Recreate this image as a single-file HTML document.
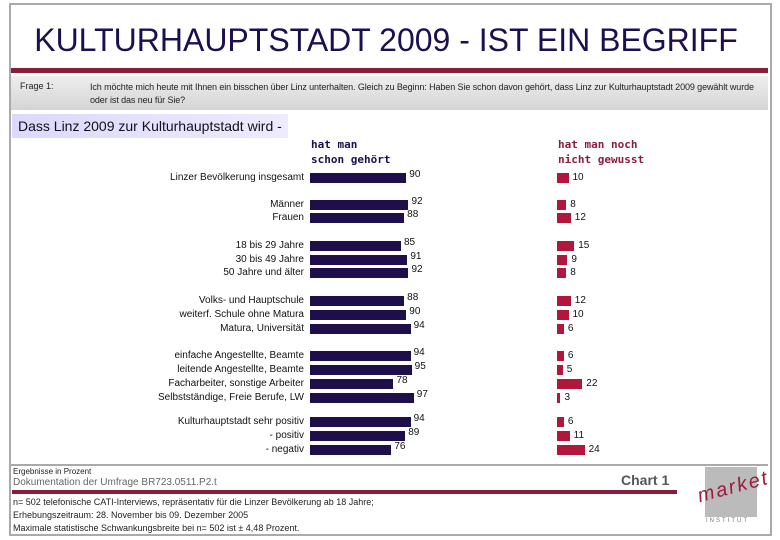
<!DOCTYPE html>
<html><head><meta charset="utf-8"><style>
body{margin:0;width:780px;height:540px;background:#fff;font-family:"Liberation Sans",sans-serif;position:relative;overflow:hidden}
.a{position:absolute}
.lbl{font-size:10px;color:#111;text-align:right;width:160px;left:144px}
.v{font-size:10px;color:#111}
</style></head><body>
<div class="a" style="left:9px;top:3px;width:759px;height:529px;border:2px solid #aaa"></div>
<div class="a" style="left:-4px;width:780px;top:22px;text-align:center;font-size:32px;color:#1a1050">KULTURHAUPTSTADT 2009 - IST EIN BEGRIFF</div>
<div class="a" style="left:11px;top:68px;width:757px;height:5px;background:#8c1d3a"></div>
<div class="a" style="left:11px;top:76px;width:757px;height:34px;background:linear-gradient(#eee,#d4d4d4)"></div>
<div class="a" style="left:20px;top:81px;font-size:9px;color:#222">Frage 1:</div>
<div class="a" style="left:90px;top:81px;width:675px;font-size:9px;line-height:13px;color:#222;letter-spacing:-0.1px">Ich möchte mich heute mit Ihnen ein bisschen über Linz unterhalten. Gleich zu Beginn: Haben Sie schon davon gehört, dass Linz zur Kulturhauptstadt 2009 gewählt wurde oder ist das neu für Sie?</div>
<div class="a" style="left:12px;top:114px;width:276px;height:24px;background:linear-gradient(90deg,#dcd8ff,#eeeaff)"></div>
<div class="a" style="left:18px;top:116px;font-size:14px;line-height:20px;color:#111;white-space:nowrap">Dass Linz 2009 zur Kulturhauptstadt wird -</div>
<div class="a" style="left:311px;top:137px;font-family:'DejaVu Sans Mono',monospace;font-weight:bold;font-size:11px;line-height:15px;color:#1a1050">hat man<br>schon gehört</div>
<div class="a" style="left:558px;top:137px;font-family:'DejaVu Sans Mono',monospace;font-weight:bold;font-size:11px;line-height:15px;color:#8c1d3a">hat man noch<br>nicht gewusst</div>
<div id="chart"></div>
<div class="a" style="left:11px;top:464px;width:757px;height:2px;background:#aaa"></div>
<div class="a" style="left:13px;top:467px;font-size:8px;color:#222">Ergebnisse in Prozent</div>
<div class="a" style="left:13px;top:477px;font-size:10px;color:#666">Dokumentation der Umfrage BR723.0511.P2.t</div>
<div class="a" style="left:621px;top:472px;font-size:14px;font-weight:bold;color:#555">Chart 1</div>
<div class="a" style="left:12px;top:490px;width:665px;height:4px;background:#8c1d3a"></div>
<div class="a" style="left:13px;top:496px;font-size:9px;line-height:13px;color:#222">n= 502 telefonische CATI-Interviews, repräsentativ für die Linzer Bevölkerung ab 18 Jahre;<br>Erhebungszeitraum: 28. November bis 09. Dezember 2005<br>Maximale statistische Schwankungsbreite bei n= 502 ist ± 4,48 Prozent.</div>
<div class="a" style="left:705px;top:467px;width:52px;height:50px;background:#bbb"></div>
<div class="a" style="left:697px;top:476px;font-size:20px;font-style:italic;color:#a01a3a;transform:rotate(-15deg);letter-spacing:2px">market</div>
<div class="a" style="left:706px;top:518px;font-size:6px;letter-spacing:2px;color:#777">INSTITUT</div>
<script>
const categories=["Linzer Bevölkerung insgesamt","Männer","Frauen","18 bis 29 Jahre","30 bis 49 Jahre","50 Jahre und älter","Volks- und Hauptschule","weiterf. Schule ohne Matura","Matura, Universität","einfache Angestellte, Beamte","leitende Angestellte, Beamte","Facharbeiter, sonstige Arbeiter","Selbstständige, Freie Berufe, LW","Kulturhauptstadt sehr positiv","- positiv","- negativ"];
const heard=[90,92,88,85,91,92,88,90,94,94,95,78,97,94,89,76];
const notKnown=[10,8,12,15,9,8,12,10,6,6,5,22,3,6,11,24];
const rowY=[178,205,218,246,260,273,301,315,329,356,370,384,398,422,436,450];
const xH=v=>v*1.07, xN=v=>v*1.15;
const c=document.getElementById('chart');
function mk(style,txt,cls){const d=document.createElement('div');d.className='a '+(cls||'');d.style.cssText=style;if(txt!==undefined)d.textContent=txt;c.appendChild(d);return d;}
categories.forEach((cat,i)=>{
  const y=rowY[i];
  const l=mk('top:'+(y-6)+'px',cat,'lbl');
  
  
  const b=mk('left:310px;top:'+(y-5)+'px;height:10px;width:'+xH(heard[i])+'px;background:#1e0f4a');
  
  
  const bv=mk('left:'+(313+xH(heard[i]))+'px;top:'+(y-9)+'px',heard[i],'v');
  
  
  const r=mk('left:557px;top:'+(y-5)+'px;height:10px;width:'+xN(notKnown[i])+'px;background:#b0173a');
  
  
  const rv=mk('left:'+(561+xN(notKnown[i]))+'px;top:'+(y-6)+'px',notKnown[i],'v');
  
  
});
</script>
</body></html>
